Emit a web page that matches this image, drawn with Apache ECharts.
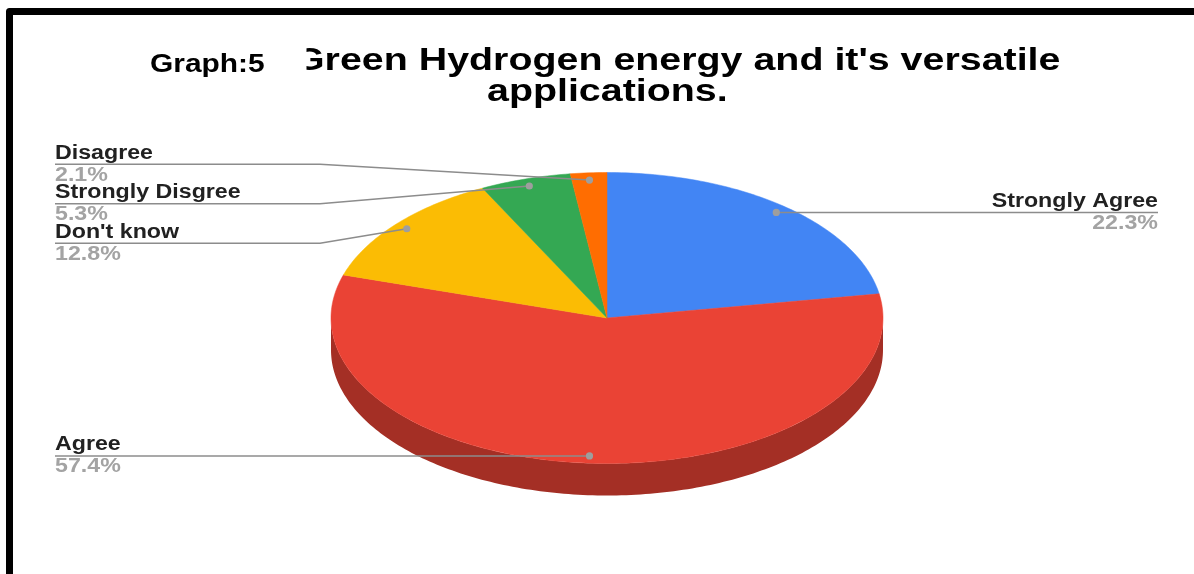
<!DOCTYPE html>
<html><head><meta charset="utf-8">
<script src="https://cdn.jsdelivr.net/npm/echarts@6/dist/echarts.min.js"></script>
<style>html,body{margin:0;padding:0;background:#fff}#c{width:1194px;height:574px}</style>
</head><body><div id="c"></div>
<script>
// ---- data ----
const categories = ['Strongly Agree', 'Agree', "Don't know", 'Strongly Disgree', 'Disagree'];
const responses = [21, 54, 12, 5, 2];
const sliceColors = ['#4285F4', '#EA4335', '#FBBC04', '#34A853', '#FF6D01'];
const graphLabel = 'Graph:5';
const titleLine1 = "Green Hydrogen energy and it's versatile";
const titleLine2 = 'applications.';

// ---- layout ----
const CX = 607, CY = 318, RX = 276, RY = 145.5, DEPTH = 32;
const FONT = "'Liberation Sans', Arial, sans-serif";
const LABEL_SX = 1.16;  // horizontal text stretch of the original picture
const total = responses.reduce((a, b) => a + b, 0);
const starts = [];
let acc = -Math.PI / 2;
responses.forEach(v => { starts.push(acc); acc += v / total * Math.PI * 2; });

function darken(hex, f) {
  const n = parseInt(hex.slice(1), 16);
  const r = Math.round(((n >> 16) & 255) * f), g = Math.round(((n >> 8) & 255) * f), b = Math.round((n & 255) * f);
  return 'rgb(' + r + ',' + g + ',' + b + ')';
}
function pt(a, dy) { return [CX + RX * Math.cos(a), CY + (dy || 0) + RY * Math.sin(a)]; }

// label anchor points and stacked label line positions
const anchors = responses.map((v, i) => {
  const mid = starts[i] + v / total * Math.PI;
  return { x: CX + 0.95 * RX * Math.cos(mid), y: CY + 0.95 * RY * Math.sin(mid), right: Math.cos(mid) > 0 };
});
const lineY = anchors.map(a => a.y);
(function relax() {
  const left = anchors.map((a, i) => i).filter(i => !anchors[i].right).sort((p, q) => anchors[p].y - anchors[q].y);
  const GAP = 39.5;
  for (let it = 0; it < 200; it++) {
    for (let k = 0; k < left.length - 1; k++) {
      const p = left[k], q = left[k + 1];
      const d = lineY[q] - lineY[p];
      if (d < GAP) { const m = (GAP - d) / 2; lineY[p] -= m; lineY[q] += m; }
    }
  }
  left.forEach(i => { if (Math.abs(lineY[i] - anchors[i].y) > 0.5) lineY[i] += 5.5; });
})();

function arcPoints(a, b, dy) {
  const pts = [];
  const n = Math.max(2, Math.ceil((b - a) / (Math.PI / 180)));
  for (let k = 0; k <= n; k++) pts.push(pt(a + (b - a) * k / n, dy));
  return pts;
}

function renderItem(params, api) {
  const i = params.dataIndex;
  const v = api.value(0);
  const a0 = starts[i], a1 = a0 + v / total * Math.PI * 2;
  const children = [];
  // visible side wall (front half of the disc)
  [[0, Math.PI], [2 * Math.PI, 3 * Math.PI]].forEach(r => {
    const s = Math.max(a0, r[0]), e = Math.min(a1, r[1]);
    if (e > s) {
      const pts = arcPoints(s, e, 0).concat(arcPoints(s, e, DEPTH).reverse());
      children.push({ type: 'polygon', shape: { points: pts }, style: { fill: darken(sliceColors[i], 0.7) } });
    }
  });
  // top face
  const top = [[CX, CY]].concat(arcPoints(a0, a1, 0));
  children.push({ type: 'polygon', shape: { points: top }, style: { fill: sliceColors[i], stroke: sliceColors[i], lineWidth: 0.5 } });
  // label
  const an = anchors[i], ly = lineY[i];
  const pct = (v / total * 100).toFixed(1) + '%';
  let line, tx, align;
  if (an.right) {
    line = [[an.x, an.y], [an.x + 45, ly], [1158, ly]];
    tx = 1158; align = 'right';
  } else {
    line = [[55, ly], [320, ly], [an.x, an.y]];
    tx = 55; align = 'left';
  }
  children.push({ type: 'polyline', z2: 100, shape: { points: line }, style: { stroke: '#8c8c8c', lineWidth: 1.5, fill: null } });
  children.push({ type: 'circle', z2: 101, shape: { cx: an.x, cy: an.y, r: 3.6 }, style: { fill: '#9e9e9e' } });
  children.push({ type: 'text', z2: 102, x: tx, y: ly - 11, scaleX: LABEL_SX,
    style: { text: categories[i], fontFamily: FONT, fontWeight: 'bold', fontSize: 20, fill: '#212121', align: align, verticalAlign: 'middle' } });
  children.push({ type: 'text', z2: 102, x: tx, y: ly + 11, scaleX: LABEL_SX,
    style: { text: pct, fontFamily: FONT, fontWeight: 'bold', fontSize: 20, fill: '#a3a3a3', align: align, verticalAlign: 'middle' } });
  return { type: 'group', children: children };
}

const chart = echarts.init(document.getElementById('c'), null, { renderer: 'canvas' });
chart.setOption({
  backgroundColor: '#ffffff',
  animation: false,
  series: [{
    type: 'custom',
    coordinateSystem: 'none',
    renderItem: renderItem,
    data: responses.map((v, i) => ({ name: categories[i], value: [v, i] }))
  }],
  graphic: [
    { type: 'polyline', z: 10, shape: { points: [[9.5, 580], [9.5, 11.5], [1200, 11.5]] },
      style: { stroke: '#000', lineWidth: 7, fill: null, lineJoin: 'round' } },
    { type: 'text', x: 294, y: 61, scaleX: 1.27, z: 5,
      style: { text: titleLine1, fontFamily: FONT, fontWeight: 'bold', fontSize: 31, fill: '#000', align: 'left', verticalAlign: 'middle' } },
    { type: 'rect', z: 6, shape: { x: 268, y: 40, width: 38.5, height: 40 }, style: { fill: '#fff' } },
    { type: 'text', x: 487, y: 92, scaleX: 1.27, z: 5,
      style: { text: titleLine2, fontFamily: FONT, fontWeight: 'bold', fontSize: 31, fill: '#000', align: 'left', verticalAlign: 'middle' } },
    { type: 'text', x: 150, y: 65, scaleX: 1.15, z: 7,
      style: { text: graphLabel, fontFamily: FONT, fontWeight: 'bold', fontSize: 26, fill: '#000', align: 'left', verticalAlign: 'middle' } }
  ]
});
</script>
</body></html>
